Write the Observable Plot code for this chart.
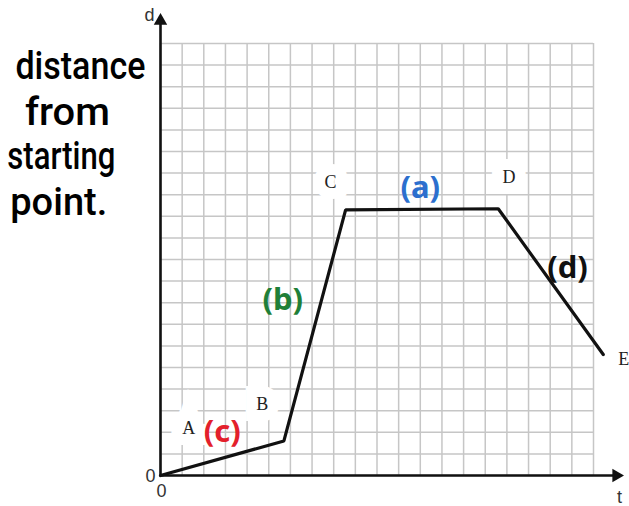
<!DOCTYPE html>
<html>
<head>
<meta charset="utf-8">
<script src="https://cdn.jsdelivr.net/npm/d3@7"></script>
<script src="https://cdn.jsdelivr.net/npm/@observablehq/plot@0.6"></script>
<style>
  html, body { margin: 0; padding: 0; background: #fff; }
  svg { display: block; }
</style>
</head>
<body>
<div id="chart"></div>
<script>
// grid values (time and distance units)
const gridValues = [0,1,2,3,4,5,6,7,8,9,10,11,12,13,14,15,16,17,18,19,20];

// journey: O -> B -> C -> D -> E
const pathT = [0, 5.7, 8.55, 15.6, 20.45];
const pathD = [0, 1.6, 12.3, 12.35, 5.6];

// printed point labels
const pointNames = ["A", "B", "C", "D", "E"];
const pointT = [1.3, 4.7, 7.85, 16.1, 21.4];
const pointD = [2.2, 3.3, 13.6, 13.8, 5.4];

// handwritten section labels
const noteText = ["(a)", "(b)", "(c)", "(d)"];
const noteT = [12.0, 5.65, 2.85, 18.8];
const noteD = [13.3, 8.1, 2.0, 9.6];
const noteColor = ["#2c6fce", "#1f7f38", "#e3202b", "#111111"];

// handwritten axis description
const descLines = ["distance", "from", "starting", "point."];
const descT = [-3.7, -4.3, -4.58, -4.7];
const descD = [18.94, 16.8, 14.77, 12.64];
const descWidth = [130, 85, 108, 97];

const path = pathT.map((t, i) => ({t, d: pathD[i]}));
const points = pointNames.map((n, i) => ({n, t: pointT[i], d: pointD[i]}));
const notes = noteText.map((s, i) => ({s, t: noteT[i], d: noteD[i], c: noteColor[i]}));
const desc = descLines.map((s, i) => ({s, t: descT[i], d: descD[i], w: descWidth[i]}));

const chart = Plot.plot({
  width: 629,
  height: 506,
  marginLeft: 160,
  marginRight: 36,
  marginTop: 43,
  marginBottom: 31,
  x: {domain: [0, 20], axis: null},
  y: {domain: [0, 20], axis: null},
  style: {background: "#fff", overflow: "visible"},
  marks: [
    Plot.ruleX(gridValues, {x: d => d, y1: 0, y2: 20, stroke: "#c6c6c6", strokeWidth: 1.5, strokeOpacity: 1}),
    Plot.ruleY(gridValues, {y: d => d, x1: 0, x2: 20, stroke: "#c6c6c6", strokeWidth: 1.5, strokeOpacity: 1}),
    // white boxes behind printed labels
    Plot.text(points, {x: "t", y: "d", text: "n", fontFamily: "Liberation Serif, serif", fontSize: 18, fill: "white", stroke: "white", strokeWidth: 22, strokeLinejoin: "miter"}),
    // axes
    Plot.ruleY([0], {x1: 0, x2: 21.0, stroke: "#111", strokeWidth: 2.6}),
    Plot.ruleX([0], {y1: 0, y2: 21.0, stroke: "#111", strokeWidth: 2.6}),
    Plot.dot([{t: 21.05, d: 0}], {x: "t", y: "d", symbol: "triangle", r: 5, rotate: 90, fill: "#111", stroke: "none"}),
    Plot.dot([{t: 0, d: 21.05}], {x: "t", y: "d", symbol: "triangle", r: 5, fill: "#111", stroke: "none"}),
    // journey line
    Plot.line(path, {x: "t", y: "d", stroke: "#111", strokeWidth: 3.2, strokeLinejoin: "miter"}),
    // printed labels
    Plot.text(points, {x: "t", y: "d", text: "n", fontFamily: "Liberation Serif, serif", fontSize: 18, fill: "#222"}),
    // axis letters and zeros
    Plot.text([{s: "d", t: 0, d: 21.1}], {x: "t", y: "d", text: "s", dx: -11, dy: -5, fontFamily: "Liberation Sans, Arial, sans-serif", fontSize: 18, fill: "#333"}),
    Plot.text([{s: "t", t: 21.2, d: 0}], {x: "t", y: "d", text: "s", dy: 22, fontFamily: "Liberation Sans, Arial, sans-serif", fontSize: 18, fill: "#333"}),
    Plot.text([{s: "0", t: 0, d: 0}], {x: "t", y: "d", text: "s", dx: -10, dy: 1, fontFamily: "Liberation Sans, Arial, sans-serif", fontSize: 18, fill: "#333"}),
    Plot.text([{s: "0", t: 0, d: 0}], {x: "t", y: "d", text: "s", dx: 1, dy: 16, fontFamily: "Liberation Sans, Arial, sans-serif", fontSize: 18, fill: "#333"}),
    // handwritten notes
    Plot.text(notes, {x: "t", y: "d", text: "s", fill: "c", fontFamily: "Noto Sans, sans-serif", fontWeight: "bold", fontSize: 31}),
    Plot.text(desc, {x: "t", y: "d", text: "s", fill: "#000", fontFamily: "Roboto, sans-serif", fontWeight: 500, fontSize: 38, className: "handdesc"})
  ]
});
// squeeze the handwritten description to the narrow widths of the original
d3.select(chart).selectAll("g.handdesc text").each(function(_, i) {
  this.setAttribute("textLength", descWidth[i]);
  this.setAttribute("lengthAdjust", "spacingAndGlyphs");
});
document.getElementById("chart").append(chart);
</script>
</body>
</html>
